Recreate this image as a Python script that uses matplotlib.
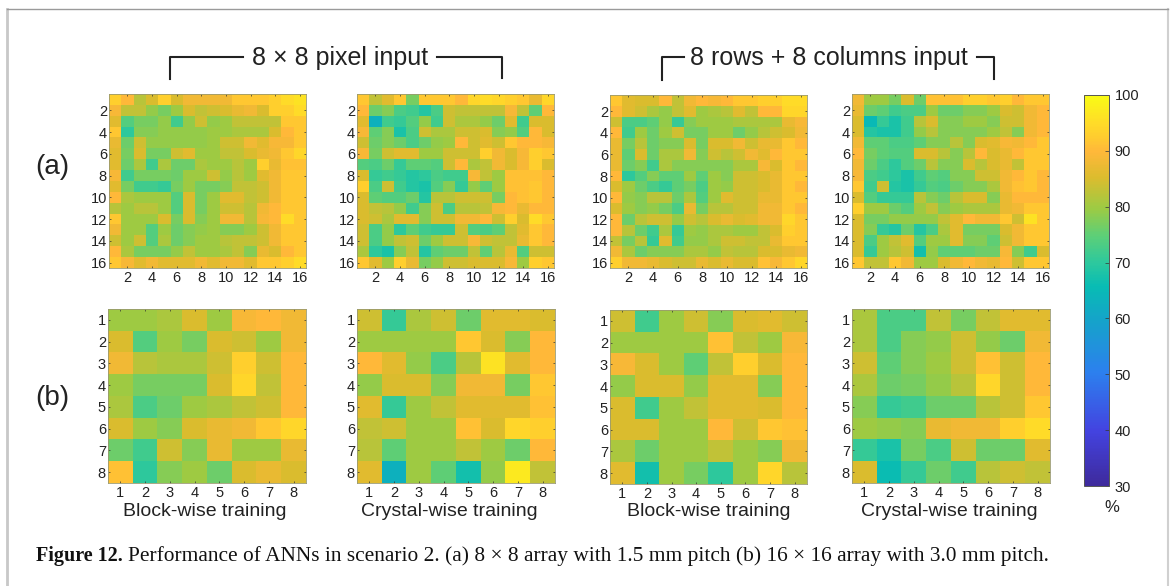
"""
Performance of ANNs in scenario 2: accuracy maps per crystal.
Rows (a) 16 x 16 and (b) 8 x 8 heatmaps, two input types, two trainings.
"""

import numpy as np
import matplotlib.pyplot as plt
from matplotlib.colors import LinearSegmentedColormap
from matplotlib.lines import Line2D

# =====================================================
# DATA (%)
# =====================================================

pixel_block_16 = [
    [93, 90, 82, 85, 93, 85, 88, 88, 88, 88, 92, 92, 92, 93, 95, 96],
    [89, 83, 83, 79, 77, 80, 85, 83, 84, 85, 87, 88, 85, 93, 93, 95],
    [86, 74, 77, 77, 79, 72, 79, 84, 79, 80, 83, 83, 83, 83, 92, 92],
    [92, 70, 78, 78, 79, 79, 79, 79, 80, 80, 81, 81, 81, 85, 90, 92],
    [87, 76, 84, 79, 79, 79, 79, 79, 80, 84, 84, 88, 86, 89, 89, 92],
    [86, 77, 85, 77, 77, 84, 86, 80, 80, 83, 83, 85, 87, 88, 92, 94],
    [86, 76, 81, 72, 81, 76, 76, 81, 80, 80, 82, 80, 93, 87, 91, 91],
    [89, 72, 77, 77, 77, 76, 80, 80, 84, 79, 82, 80, 86, 88, 92, 92],
    [86, 77, 72, 72, 71, 77, 80, 77, 77, 78, 83, 83, 84, 88, 92, 92],
    [90, 81, 80, 80, 80, 74, 85, 77, 80, 86, 86, 83, 84, 88, 92, 92],
    [82, 80, 82, 82, 80, 74, 85, 77, 80, 84, 84, 82, 88, 90, 92, 92],
    [92, 80, 80, 80, 85, 77, 85, 78, 80, 88, 88, 82, 89, 90, 95, 92],
    [88, 80, 80, 74, 80, 76, 78, 79, 80, 78, 78, 80, 84, 88, 92, 92],
    [84, 80, 84, 74, 81, 76, 78, 80, 80, 82, 83, 83, 84, 88, 92, 92],
    [90, 81, 77, 77, 77, 79, 83, 80, 80, 81, 83, 78, 87, 85, 90, 92],
    [92, 89, 86, 88, 86, 86, 86, 88, 86, 88, 88, 86, 92, 92, 93, 95],
]

pixel_crystal_16 = [
    [92, 83, 86, 92, 77, 92, 92, 92, 90, 94, 95, 94, 93, 92, 87, 94],
    [90, 76, 78, 73, 72, 69, 73, 84, 83, 83, 83, 83, 89, 83, 75, 90],
    [86, 63, 72, 71, 74, 79, 72, 84, 81, 81, 79, 76, 86, 72, 85, 85],
    [89, 75, 78, 68, 73, 84, 81, 81, 84, 84, 85, 78, 79, 74, 90, 85],
    [84, 76, 78, 76, 73, 76, 79, 80, 90, 84, 86, 84, 92, 90, 90, 89],
    [89, 77, 84, 86, 86, 80, 80, 84, 84, 84, 93, 88, 85, 89, 93, 92],
    [74, 73, 76, 71, 75, 75, 74, 84, 90, 81, 83, 88, 85, 89, 93, 85],
    [85, 71, 72, 71, 69, 70, 73, 72, 72, 89, 83, 80, 91, 91, 91, 90],
    [93, 73, 84, 72, 69, 68, 74, 78, 71, 79, 75, 80, 91, 91, 92, 90],
    [85, 75, 74, 74, 76, 69, 82, 82, 84, 84, 84, 77, 90, 91, 92, 90],
    [85, 83, 82, 79, 72, 78, 84, 73, 82, 82, 83, 89, 90, 87, 90, 90],
    [85, 84, 81, 86, 86, 78, 84, 84, 88, 88, 90, 84, 93, 85, 95, 92],
    [84, 73, 79, 70, 75, 72, 71, 71, 84, 74, 73, 75, 83, 86, 92, 90],
    [84, 73, 79, 83, 84, 76, 80, 84, 84, 89, 84, 83, 83, 87, 92, 90],
    [81, 70, 68, 78, 83, 69, 75, 76, 76, 83, 75, 82, 87, 74, 84, 84],
    [92, 86, 80, 93, 87, 77, 79, 84, 84, 85, 85, 85, 89, 80, 93, 92],
]

rowcol_block_16 = [
    [92, 86, 85, 85, 90, 83, 88, 90, 89, 90, 92, 92, 93, 93, 95, 95],
    [90, 86, 84, 81, 79, 83, 86, 80, 81, 82, 86, 83, 90, 90, 94, 94],
    [84, 73, 73, 75, 79, 71, 78, 80, 80, 80, 81, 81, 81, 81, 87, 89],
    [90, 72, 80, 76, 80, 84, 77, 77, 80, 80, 76, 79, 82, 84, 85, 88],
    [87, 77, 82, 76, 78, 78, 85, 77, 85, 85, 88, 84, 87, 87, 92, 90],
    [87, 75, 85, 76, 81, 81, 88, 78, 84, 82, 84, 88, 86, 90, 92, 92],
    [87, 76, 78, 72, 81, 78, 78, 78, 78, 78, 81, 81, 89, 85, 92, 90],
    [90, 70, 74, 78, 75, 75, 80, 75, 80, 78, 84, 84, 85, 87, 92, 92],
    [85, 80, 76, 73, 71, 75, 77, 73, 80, 79, 84, 84, 85, 87, 92, 90],
    [90, 79, 78, 82, 82, 76, 81, 74, 80, 86, 84, 84, 87, 87, 92, 92],
    [85, 80, 78, 79, 77, 73, 87, 77, 82, 82, 84, 84, 88, 88, 92, 90],
    [90, 76, 82, 84, 84, 79, 84, 82, 85, 87, 85, 86, 88, 88, 94, 92],
    [90, 82, 76, 72, 81, 71, 80, 79, 81, 81, 80, 80, 83, 85, 93, 92],
    [83, 77, 82, 71, 86, 72, 79, 79, 81, 84, 84, 83, 83, 87, 92, 92],
    [88, 81, 76, 78, 78, 78, 81, 81, 79, 83, 82, 82, 85, 85, 87, 88],
    [93, 88, 88, 87, 85, 84, 84, 87, 85, 87, 85, 85, 91, 89, 92, 94],
]

rowcol_crystal_16 = [
    [88, 80, 80, 77, 85, 76, 91, 91, 91, 93, 93, 92, 93, 90, 92, 92],
    [87, 76, 75, 72, 73, 73, 80, 76, 76, 78, 78, 80, 85, 84, 88, 90],
    [85, 65, 71, 68, 72, 82, 85, 78, 78, 80, 80, 78, 84, 84, 88, 90],
    [85, 69, 68, 68, 72, 79, 82, 78, 78, 78, 78, 80, 83, 78, 88, 90],
    [88, 75, 75, 73, 73, 75, 78, 78, 82, 78, 85, 86, 89, 88, 90, 92],
    [90, 77, 75, 74, 74, 85, 85, 82, 78, 82, 90, 85, 87, 90, 92, 92],
    [88, 76, 73, 70, 74, 76, 82, 78, 78, 85, 82, 85, 87, 83, 92, 92],
    [89, 73, 72, 70, 68, 72, 75, 74, 78, 78, 84, 84, 88, 90, 92, 90],
    [92, 72, 84, 69, 68, 71, 74, 73, 76, 78, 78, 81, 88, 91, 92, 90],
    [85, 74, 71, 71, 71, 82, 78, 76, 82, 85, 85, 78, 87, 90, 90, 90],
    [93, 80, 80, 76, 74, 80, 83, 78, 80, 81, 81, 81, 87, 88, 92, 92],
    [85, 77, 77, 79, 79, 79, 79, 83, 86, 90, 88, 88, 92, 84, 96, 92],
    [85, 78, 71, 69, 76, 69, 73, 81, 86, 77, 77, 77, 85, 88, 92, 92],
    [85, 73, 80, 83, 86, 74, 80, 80, 86, 78, 78, 75, 84, 88, 92, 92],
    [85, 71, 80, 82, 84, 67, 79, 75, 75, 75, 76, 76, 89, 78, 72, 85],
    [92, 83, 83, 92, 88, 80, 80, 85, 88, 90, 88, 87, 90, 84, 92, 92],
]

pixel_block_8 = [
    [80, 80, 81, 85, 80, 89, 90, 88],
    [85, 74, 80, 77, 85, 84, 80, 88],
    [88, 82, 81, 81, 84, 93, 84, 90],
    [80, 77, 77, 77, 85, 94, 83, 90],
    [81, 73, 76, 80, 81, 83, 84, 90],
    [85, 80, 78, 85, 87, 88, 92, 94],
    [76, 72, 84, 78, 87, 80, 80, 87],
    [91, 70, 78, 80, 76, 85, 87, 85],
]

pixel_crystal_8 = [
    [84, 71, 81, 84, 76, 86, 86, 85],
    [80, 80, 80, 80, 92, 85, 78, 90],
    [90, 86, 79, 73, 82, 96, 86, 90],
    [79, 85, 85, 78, 88, 88, 77, 92],
    [86, 71, 80, 83, 86, 86, 86, 91],
    [83, 84, 80, 80, 91, 85, 94, 93],
    [82, 75, 80, 80, 83, 80, 76, 90],
    [86, 63, 80, 75, 67, 79, 97, 83],
]

rowcol_block_8 = [
    [84, 72, 80, 84, 78, 85, 86, 84],
    [80, 80, 80, 80, 91, 83, 80, 89],
    [89, 85, 80, 75, 83, 93, 85, 90],
    [79, 85, 85, 79, 86, 86, 78, 90],
    [85, 72, 80, 83, 86, 86, 85, 90],
    [85, 85, 80, 80, 90, 84, 92, 91],
    [81, 76, 80, 80, 83, 80, 78, 88],
    [86, 67, 80, 77, 70, 80, 94, 82],
]

rowcol_crystal_8 = [
    [81, 73, 73, 83, 77, 83, 86, 86],
    [81, 73, 78, 79, 84, 79, 76, 88],
    [84, 75, 78, 80, 84, 91, 84, 90],
    [81, 76, 77, 79, 82, 94, 84, 90],
    [78, 71, 72, 76, 76, 82, 84, 92],
    [80, 79, 78, 87, 88, 88, 93, 95],
    [71, 68, 77, 73, 84, 76, 76, 86],
    [85, 66, 71, 76, 72, 82, 84, 83],
]

ticks_16 = [2, 4, 6, 8, 10, 12, 14, 16]
ticks_8 = [1, 2, 3, 4, 5, 6, 7, 8]
cbar_ticks = [30, 40, 50, 60, 70, 80, 90, 100]

# =====================================================
# SETUP
# =====================================================

W, H = 1170, 586
plt.rcParams["font.family"] = ["Liberation Sans", "DejaVu Sans"]

cmap = LinearSegmentedColormap.from_list("parula_like", [
    (0.00, "#3e2a9c"),
    (0.14, "#4343e0"),
    (0.29, "#2c80ee"),
    (0.43, "#14a5c8"),
    (0.51, "#08bcb4"),
    (0.57, "#2cc89e"),
    (0.64, "#5ccf78"),
    (0.71, "#9ccb44"),
    (0.79, "#dcbc2e"),
    (0.857, "#ffb83a"),
    (0.89, "#ffca30"),
    (0.93, "#ffdc28"),
    (1.00, "#f9fb15"),
])

fig = plt.figure(figsize=(W / 100, H / 100), dpi=100)
overlay = fig.add_axes([0, 0, 1, 1])
overlay.set_xlim(0, W)
overlay.set_ylim(H, 0)
overlay.axis("off")


def pixel_axes(x0, x1, y0, y1):
    return fig.add_axes([x0 / W, 1 - y1 / H, (x1 - x0) / W, (y1 - y0) / H])


def heatmap(values, ticks, x0, x1, y0, y1):
    ax = pixel_axes(x0, x1, y0, y1)
    im = ax.imshow(np.array(values), cmap=cmap, vmin=30, vmax=100,
                   aspect="auto", interpolation="nearest",
                   extent=(0.5, len(values) + 0.5, len(values) + 0.5, 0.5))
    ax.set_xticks(ticks)
    ax.set_yticks(ticks)
    ax.tick_params(direction="in", top=True, right=True, length=1.5, width=0.5,
                   color="#333333", labelcolor="#222222", labelsize=10.5)
    ax.tick_params(axis="x", pad=2.5)
    ax.tick_params(axis="y", pad=1.5)
    for s in ax.spines.values():
        s.set_linewidth(0.6)
        s.set_color("#9a9a70")
    return im


# =====================================================
# HEATMAPS
# =====================================================

heatmap(pixel_block_16, ticks_16, 109, 306, 94, 268)
heatmap(pixel_crystal_16, ticks_16, 357, 554, 94, 268)
heatmap(rowcol_block_16, ticks_16, 610, 807, 95, 268)
heatmap(rowcol_crystal_16, ticks_16, 852, 1049, 94, 268)

heatmap(pixel_block_8, ticks_8, 108, 306, 309, 483)
heatmap(pixel_crystal_8, ticks_8, 357, 555, 309, 483)
heatmap(rowcol_block_8, ticks_8, 610, 807, 310, 484)
im = heatmap(rowcol_crystal_8, ticks_8, 852, 1050, 309, 483)

# =====================================================
# COLORBAR
# =====================================================

cax = pixel_axes(1084, 1109, 95, 486)
cb = fig.colorbar(im, cax=cax)
cb.set_ticks(cbar_ticks)
cb.ax.tick_params(direction="in", length=3, width=0.5, color="#333333",
                  labelcolor="#222222", labelsize=10.5, pad=4)
cb.outline.set_linewidth(0.7)
cb.outline.set_edgecolor("#555555")

# =====================================================
# TEXT AND FRAME
# =====================================================

overlay.add_line(Line2D([7, 7], [9, H], color="#c8c8c8", lw=2))
overlay.add_line(Line2D([1168, 1168], [9, H], color="#d0d0d0", lw=1.5))
overlay.add_line(Line2D([7, 1168], [9, 9], color="#9a9a9a", lw=1))

for xs, ys in [
    ([170, 170, 243], [79, 57, 57]),
    ([437, 502, 502], [57, 57, 78]),
    ([662, 662, 684], [80, 57, 57]),
    ([977, 994, 994], [57, 57, 79]),
]:
    overlay.add_line(Line2D(xs, ys, color="#222222", lw=1.5))

overlay.text(340, 58, "8 \u00d7 8 pixel input", fontsize=18, ha="center",
             va="center", color="#222222")
overlay.text(829, 58, "8 rows + 8 columns input", fontsize=18, ha="center",
             va="center", color="#222222")

overlay.text(52, 167, "(a)", fontsize=20, ha="center", va="center", color="#222222")
overlay.text(52, 398, "(b)", fontsize=20, ha="center", va="center", color="#222222")

for x, label in [(205, "Block-wise training"), (449, "Crystal-wise training"),
                 (709, "Block-wise training"), (949, "Crystal-wise training")]:
    overlay.text(x, 511, label, fontsize=14, ha="center", va="center", color="#222222")

overlay.text(1112, 507, "%", fontsize=12, ha="center", va="center", color="#222222")

overlay.text(36, 556, "Figure 12.", fontsize=14.5, fontweight="bold",
             family=["Liberation Serif"], ha="left", va="center", color="#111111")
overlay.text(128, 556,
             "Performance of ANNs in scenario 2. (a) 8 \u00d7 8 array with 1.5 mm pitch "
             "(b) 16 \u00d7 16 array with 3.0 mm pitch.",
             fontsize=15.4, family=["Liberation Serif"], ha="left", va="center",
             color="#111111")

fig.savefig("out.png", dpi=100)
